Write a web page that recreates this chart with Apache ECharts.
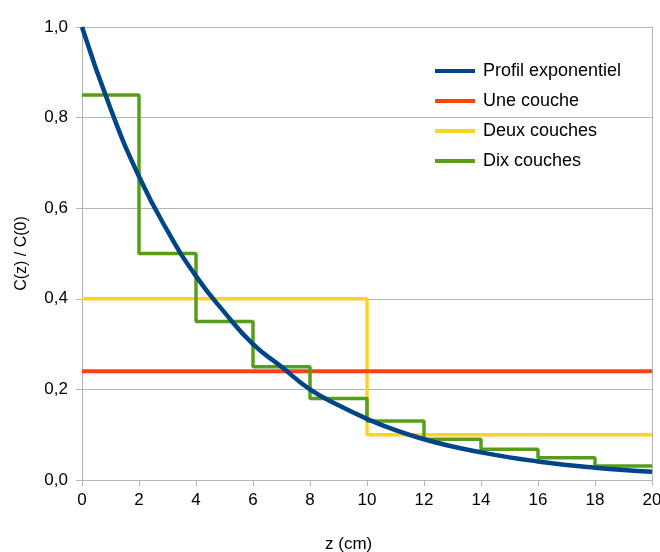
<!DOCTYPE html>
<html>
<head>
<meta charset="utf-8">
<script src="https://cdn.jsdelivr.net/npm/echarts@6/dist/echarts.min.js"></script>
<style>
  html, body { margin: 0; padding: 0; background: #fff; }
  #chart { width: 660px; height: 552px; }
</style>
</head>
<body>
<div id="chart"></div>
<script>
// profil exponentiel (z en cm)
var zExp = [0, 1, 2, 3, 4, 5, 6, 7, 8, 9, 10, 11, 12, 13, 14, 15, 16, 17, 18, 19, 20];
var cExp = [1.0, 0.82, 0.67, 0.55, 0.45, 0.37, 0.30, 0.25, 0.20, 0.165, 0.135, 0.11, 0.09, 0.074, 0.061, 0.05, 0.041, 0.033, 0.027, 0.022, 0.018];

// une couche
var zUne = [0, 20];
var cUne = [0.24, 0.24];

// deux couches (marches)
var zDeux = [0, 10, 20];
var cDeux = [0.40, 0.10, 0.10];

// dix couches (marches)
var zDix = [0, 2, 4, 6, 8, 10, 12, 14, 16, 18, 20];
var cDix = [0.85, 0.50, 0.35, 0.25, 0.18, 0.13, 0.09, 0.068, 0.049, 0.031, 0.031];

function pts(xs, ys) {
  return xs.map(function (x, i) { return [x, ys[i]]; });
}

var font = 'Liberation Sans';
var myChart = echarts.init(document.getElementById('chart'));
myChart.setOption({
  animation: false,
  textStyle: { fontFamily: font },
  title: {
    text: 'z (cm)',
    left: 325,
    top: 536,
    padding: 0,
    textStyle: { fontSize: 17, fontWeight: 'normal', color: '#000', fontFamily: font }
  },
  legend: {
    orient: 'vertical',
    left: 435,
    top: 62,
    padding: 0,
    itemWidth: 40,
    itemHeight: 4,
    itemGap: 12,
    icon: 'rect',
    textStyle: { fontSize: 18, color: '#000', fontFamily: font, padding: [0, 0, 0, 3] },
    data: ['Profil exponentiel', 'Une couche', 'Deux couches', 'Dix couches']
  },
  grid: { left: 82, right: 8, top: 27, bottom: 72, containLabel: false, outerBoundsMode: 'none' },
  xAxis: {
    type: 'value',
    min: 0, max: 20, interval: 2,
    axisLine: { show: true, lineStyle: { color: '#b3b3b3', width: 1 } },
    axisTick: { show: true, length: 6, lineStyle: { color: '#b3b3b3' } },
    axisLabel: { color: '#000', fontSize: 17, margin: 12, fontFamily: font },
    splitLine: { show: false }
  },
  yAxis: [{
    type: 'value',
    min: 0, max: 1, interval: 0.2,
    name: 'C(z) / C(0)',
    nameLocation: 'middle',
    nameGap: 52,
    nameRotate: 90,
    nameTextStyle: { color: '#000', fontSize: 16, fontFamily: font },
    axisLine: { show: true, lineStyle: { color: '#b3b3b3', width: 1 } },
    axisTick: { show: true, length: 6, lineStyle: { color: '#b3b3b3' } },
    axisLabel: {
      color: '#000', fontSize: 17, margin: 14, fontFamily: font,
      formatter: function (v) { return v.toFixed(1).replace('.', ','); }
    },
    splitLine: { show: true, lineStyle: { color: '#b3b3b3', width: 1 } }
  }, {
    // bord droit du cadre
    type: 'value',
    position: 'right',
    min: 0, max: 1, interval: 0.2,
    axisLine: { show: true, lineStyle: { color: '#b3b3b3', width: 1 } },
    axisTick: { show: false },
    axisLabel: { show: false },
    splitLine: { show: false }
  }],
  series: [
    {
      name: 'Deux couches',
      type: 'line',
      step: 'end',
      data: pts(zDeux, cDeux),
      symbol: 'none',
      color: '#ffd320',
      lineStyle: { width: 3.5, color: '#ffd320' },
      z: 2
    },
    {
      name: 'Une couche',
      type: 'line',
      data: pts(zUne, cUne),
      symbol: 'none',
      color: '#ff420e',
      lineStyle: { width: 4, color: '#ff420e' },
      z: 3
    },
    {
      name: 'Dix couches',
      type: 'line',
      step: 'end',
      data: pts(zDix, cDix),
      symbol: 'none',
      color: '#579d1c',
      lineStyle: { width: 3.5, color: '#579d1c' },
      z: 4
    },
    {
      name: 'Profil exponentiel',
      type: 'line',
      smooth: true,
      data: pts(zExp, cExp),
      symbol: 'none',
      color: '#004586',
      lineStyle: { width: 4.5, color: '#004586' },
      z: 5
    }
  ]
});
</script>
</body>
</html>
